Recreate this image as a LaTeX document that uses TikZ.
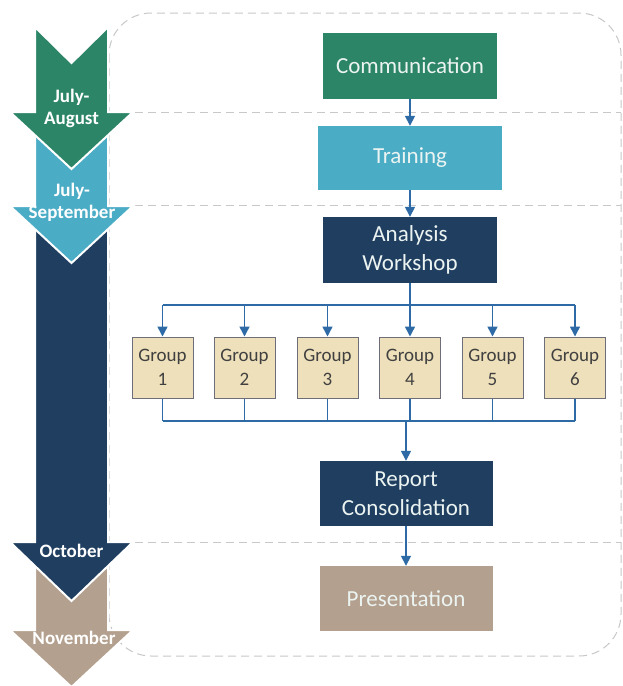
\documentclass[tikz,border=0pt]{standalone}
\usepackage{fontspec}
\setmainfont{Carlito}
\usetikzlibrary{arrows.meta}

\definecolor{stgreen}{RGB}{44,133,103}
\definecolor{staqua}{RGB}{75,172,198}
\definecolor{stnavy}{RGB}{31,62,96}
\definecolor{sttan}{RGB}{180,160,142}
\definecolor{grpfill}{RGB}{238,224,186}
\definecolor{grpline}{RGB}{110,110,122}
\definecolor{linkblue}{RGB}{46,106,165}
\definecolor{framegray}{RGB}{200,200,200}
\definecolor{boxtext}{RGB}{236,244,242}

\tikzset{
  frameline/.style={draw=framegray, line width=1pt, dash pattern=on 8pt off 5pt},
  phase/.style={draw=white, line width=2pt, line join=miter},
  monthlabel/.style={text=white, font=\bfseries\fontsize{19}{22}\selectfont, align=center, inner sep=0pt},
  stagebox/.style={minimum width=174pt, minimum height=66pt, inner sep=0pt, align=center,
    text=boxtext, font=\fontsize{23}{28.5}\selectfont},
  groupbox/.style={draw=grpline, line width=1pt, fill=grpfill, minimum width=61pt, minimum height=61pt,
    inner sep=0pt, align=center, text=black!75, font=\fontsize{19}{24}\selectfont},
  link/.style={draw=linkblue, line width=1.5pt},
  conn/.style={link, -{Triangle[width=10pt,length=10pt]}},
}

\begin{document}
\begin{tikzpicture}[x=1pt, y=-1pt]
\useasboundingbox (0,0) rectangle (622,686);
\fill[white] (0,0) rectangle (622,686);

% dashed frame and phase separators
\draw[frameline, rounded corners=42pt] (109,13) rectangle (621,656);
\draw[frameline] (109,112) -- (621,112);
\draw[frameline] (109,205) -- (621,205);
\draw[frameline] (109,542) -- (621,542);

% timeline chevrons, drawn from the last phase up to the first
\path[phase, fill=sttan]  (35,542) -- (35,630) -- (10,630) -- (71.5,687) -- (133,630) -- (108,630) -- (108,542) -- cycle;
\path[phase, fill=stnavy] (35,205) -- (35,542) -- (10,542) -- (71.5,601) -- (133,542) -- (108,542) -- (108,205) -- cycle;
\path[phase, fill=staqua] (35,112) -- (35,206) -- (10,206) -- (71.5,263) -- (133,206) -- (108,206) -- (108,112) -- cycle;
\path[phase, fill=stgreen] (35,27) -- (71.5,63) -- (108,27) -- (108,112) -- (133,112) -- (71.5,169) -- (10,112) -- (35,112) -- cycle;

\node[monthlabel] (m1) at (71.5,108) {July-\\August};
\node[monthlabel] (m2) at (72,202) {July-\\September};
\node[monthlabel] (m3) at (71.5,551) {October};
\node[monthlabel] (m4) at (74,638) {November};

% process stages
\node[stagebox, fill=stgreen] (comm) at (410,66) {Communication};
\node[stagebox, fill=staqua, minimum width=184pt, minimum height=64pt] (train) at (410,158) {Training};
\node[stagebox, fill=stnavy] (ana) at (410,250) {Analysis\\Workshop};
\node[stagebox, fill=stnavy, minimum width=173pt, minimum height=65pt] (rep) at (406,493.5) {Report\\Consolidation};
\node[stagebox, fill=sttan, minimum width=173pt, minimum height=65pt] (pres) at (406,598.5) {Presentation};

% working groups
\foreach \i/\x in {1/162.5, 2/244.5, 3/327.5, 4/410, 5/492.5, 6/575}{
  \node[groupbox] (g\i) at (\x,367.5) {Group\\\i};
}

\coordinate (bustop) at (410,305);
\coordinate (busbot) at (406,421);

\draw[conn] (comm) -- (train);
\draw[conn] (train) -- (ana);

\draw[link] (ana.south) -- (bustop);
\draw[link] (g1.north |- bustop) -- (g6.north |- bustop);
\foreach \i in {1,...,6}{
  \draw[conn] (g\i.north |- bustop) -- (g\i.north);
  \draw[link] (g\i.south) -- (g\i.south |- busbot);
}
\draw[link] (g1.south |- busbot) -- (g6.south |- busbot);

\draw[conn] (busbot) -- (rep.north);
\draw[conn] (rep) -- (pres);
\end{tikzpicture}
\end{document}
